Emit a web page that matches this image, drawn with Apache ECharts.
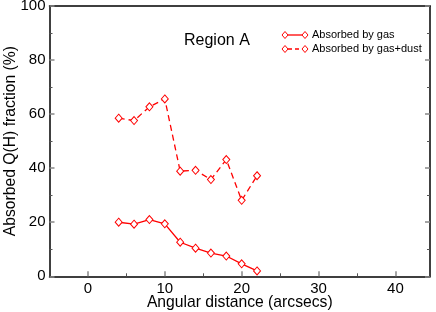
<!DOCTYPE html>
<html><head><meta charset="utf-8">
<script src="https://cdn.jsdelivr.net/npm/echarts@6/dist/echarts.min.js"></script>
<style>html,body{margin:0;padding:0;background:#fff}#c{width:436px;height:312px}</style>
</head><body><div id="c"></div>
<script>
var distance = [4, 6, 8, 10, 12, 14, 16, 18, 20, 22];
var gasOnly = [20.0, 19.3, 21.0, 19.4, 12.6, 10.4, 8.6, 7.5, 4.6, 2.0];
var gasDust = [58.5, 57.6, 62.7, 65.6, 38.9, 39.2, 35.8, 43.2, 28.1, 37.2];
var seriesNames = ['Absorbed by gas', 'Absorbed by gas+dust'];
var xMajorTicks = [0, 10, 20, 30, 40];
var xMinorTicks = [5, 15, 25, 35];

var chart = echarts.init(document.getElementById('c'), null, {renderer: 'canvas'});
var font = 'Liberation Sans, Arial, sans-serif';
function pairs(v) { return distance.map(function (d, i) { return [d, v[i]]; }); }

var legendX = 285, legendY = 35;
function legendItem(y, dashed, text) {
  return [
    {type: 'line', shape: {x1: legendX + 3, y1: y, x2: legendX + 17, y2: y},
     style: {stroke: '#ff0000', lineWidth: 1.3, lineDash: dashed ? [4, 3] : null}},
    {type: 'polygon', shape: {points: [[legendX - 3, y], [legendX, y - 3.5], [legendX + 3, y], [legendX, y + 3.5]]},
     style: {fill: '#fff', stroke: '#ff0000', lineWidth: 1}},
    {type: 'polygon', shape: {points: [[legendX + 17, y], [legendX + 20, y - 3.5], [legendX + 23, y], [legendX + 20, y + 3.5]]},
     style: {fill: '#fff', stroke: '#ff0000', lineWidth: 1}},
    {type: 'text', style: {x: legendX + 27, y: y, text: text, fill: '#000', font: '11px ' + font, textVerticalAlign: 'middle'}}
  ];
}

chart.setOption({
  animation: false,
  grid: {left: 49.5, right: 6, top: 6, bottom: 35.7, containLabel: false, outerBoundsMode: 'none'},
  xAxis: [{
    type: 'value', min: -5, max: 44.5,
    name: 'Angular distance (arcsecs)', nameLocation: 'middle', nameGap: 18, nameMoveOverlap: false,
    nameTextStyle: {fontFamily: font, fontSize: 15.7, color: '#000'},
    axisLine: {show: true, onZero: false, lineStyle: {color: '#000', width: 1.5}},
    axisTick: {show: true, inside: true, length: 5, customValues: xMajorTicks, lineStyle: {color: '#888', width: 1.5}},
    splitLine: {show: false},
    axisLabel: {fontFamily: font, fontSize: 15, color: '#000', margin: 5, customValues: xMajorTicks}
  }, {
    type: 'value', position: 'top', min: -5, max: 44.5,
    axisLine: {show: true, onZero: false, lineStyle: {color: '#000', width: 1.5}},
    axisTick: {show: false}, axisLabel: {show: false}, splitLine: {show: false}
  }, {
    type: 'value', position: 'bottom', min: -5, max: 44.5,
    axisLine: {show: false, onZero: false},
    axisTick: {show: true, inside: true, length: 3, customValues: xMinorTicks, lineStyle: {color: '#555', width: 1}},
    axisLabel: {show: false}, splitLine: {show: false}
  }],
  yAxis: [{
    type: 'value', min: 0, max: 100, interval: 20,
    name: 'Absorbed Q(H) fraction (%)', nameLocation: 'middle', nameGap: 31, nameMoveOverlap: false,
    nameTextStyle: {fontFamily: font, fontSize: 15.7, color: '#000'},
    axisLine: {show: true, onZero: false, lineStyle: {color: '#000', width: 1.5}},
    axisTick: {show: true, inside: true, length: 5, lineStyle: {color: '#888', width: 1.5}},
    minorTick: {show: true, splitNumber: 2, length: 3, lineStyle: {color: '#555', width: 1}},
    splitLine: {show: false},
    axisLabel: {fontFamily: font, fontSize: 15, color: '#000', margin: 4}
  }, {
    type: 'value', position: 'right', min: 0, max: 100, interval: 20,
    axisLine: {show: true, onZero: false, lineStyle: {color: '#000', width: 1.5}},
    axisTick: {show: true, inside: true, length: 5, lineStyle: {color: '#888', width: 1.5}},
    minorTick: {show: true, splitNumber: 2, length: 3, lineStyle: {color: '#555', width: 1}},
    axisLabel: {show: false}, splitLine: {show: false}
  }],
  series: [{
    name: seriesNames[0], type: 'line', data: pairs(gasOnly),
    symbol: 'diamond', symbolSize: [7, 8], showAllSymbol: true,
    lineStyle: {color: '#ff0000', width: 1.3},
    itemStyle: {color: '#fff', borderColor: '#ff0000', borderWidth: 1}
  }, {
    name: seriesNames[1], type: 'line', data: pairs(gasDust),
    symbol: 'diamond', symbolSize: [7, 8], showAllSymbol: true,
    lineStyle: {color: '#ff0000', width: 1.3, type: [6, 4]},
    itemStyle: {color: '#fff', borderColor: '#ff0000', borderWidth: 1}
  }],
  graphic: [
    {type: 'text', style: {x: 184, y: 41, text: 'Region A', fill: '#000', font: '16px ' + font, textVerticalAlign: 'middle'}}
  ].concat(legendItem(legendY, false, seriesNames[0]), legendItem(legendY + 14, true, seriesNames[1]))
});
</script></body></html>
